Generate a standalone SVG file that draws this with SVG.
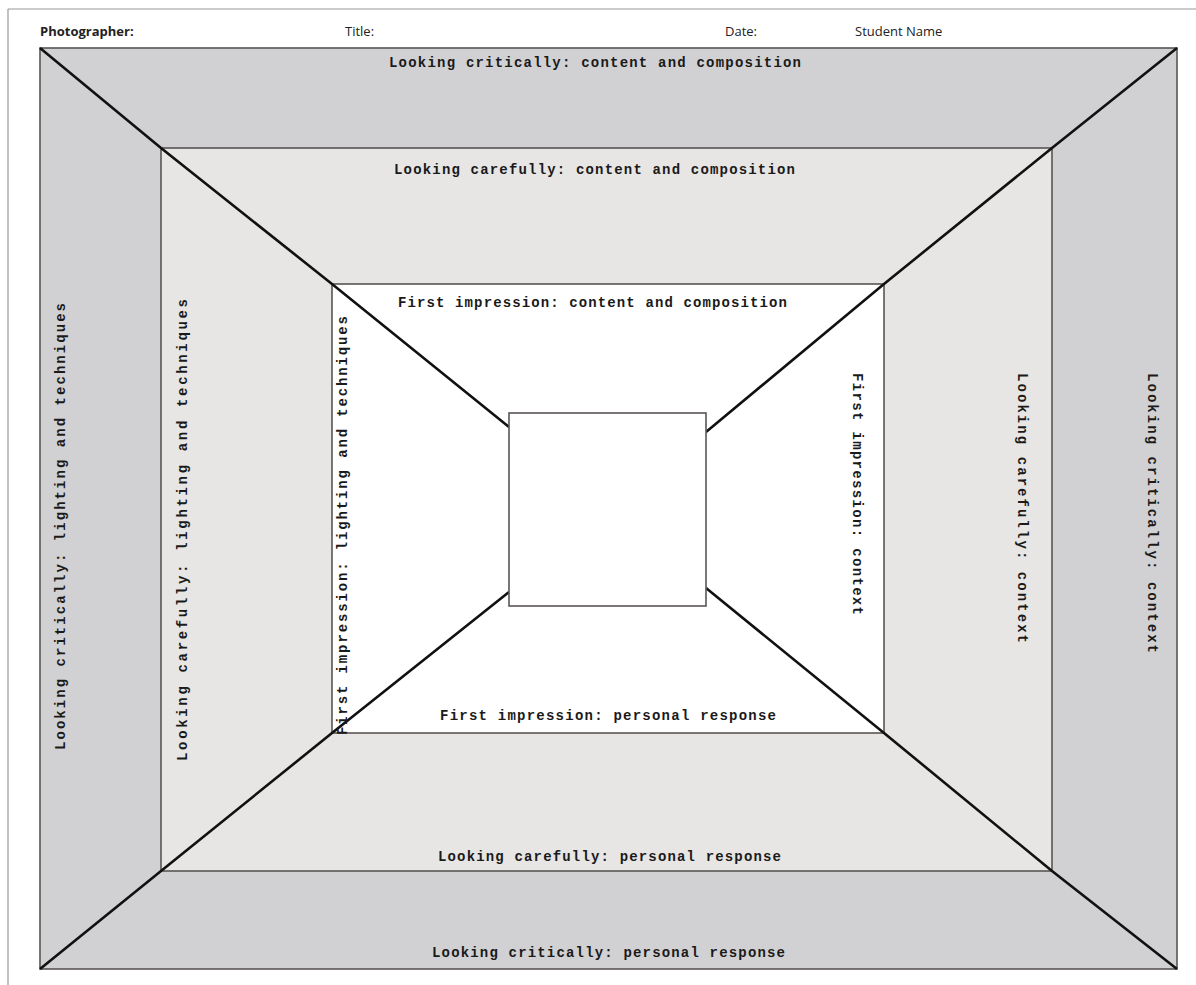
<svg xmlns="http://www.w3.org/2000/svg" width="1196" height="985" viewBox="0 0 1196 985">
<style>
.hdr{font-family:"Open Sans","DejaVu Sans",sans-serif;font-size:13px;fill:#222}
.lbl{font-family:"Liberation Mono","Courier New",monospace;font-size:14px;font-weight:bold;fill:#1a1a1a;text-anchor:middle}
.frame{stroke:#5a5555;stroke-width:1.6}
.diag{fill:none;stroke:#111;stroke-width:2.6;stroke-linejoin:round}
</style>
<rect width="1196" height="985" fill="#ffffff"/>
<g id="page-border" fill="none" stroke="#9a9898" stroke-width="1.2">
<line x1="8" y1="9" x2="1196" y2="9"/>
<line x1="8" y1="9" x2="8" y2="985"/>
</g>
<g id="header">
<text class="hdr" x="40" y="36" font-weight="bold">Photographer:</text>
<text class="hdr" x="345" y="36">Title:</text>
<text class="hdr" x="725" y="36">Date:</text>
<text class="hdr" x="855" y="36">Student Name</text>
</g>
<g id="outer-critically">
<rect class="frame" x="40" y="48" width="1137" height="921" fill="#d1d1d3"/>
</g>
<g id="middle-carefully">
<rect class="frame" x="161" y="148" width="891" height="723" fill="#e7e6e5"/>
</g>
<g id="inner-first-impression">
<rect class="frame" x="332" y="284" width="552" height="449" fill="#ffffff"/>
</g>
<g id="connectors">
<polyline class="diag" points="40,48 161,148 332,284 509,427"/>
<polyline class="diag" points="1177,48 1052,148 884,284 706,432"/>
<polyline class="diag" points="40,969 161,871 332,733 509,592"/>
<polyline class="diag" points="1177,969 1052,871 884,733 706,588"/>
</g>
<g id="center-photo">
<rect class="frame" x="509" y="413" width="197" height="193" fill="#ffffff"/>
</g>
<g id="labels-critically">
<text class="lbl" x="595" y="67" textLength="412" lengthAdjust="spacing">Looking critically: content and composition</text>
<text class="lbl" x="608.5" y="957" textLength="353" lengthAdjust="spacing">Looking critically: personal response</text>
<text class="lbl" transform="translate(65,526.5) rotate(-90)" x="0" y="0" textLength="447" lengthAdjust="spacing">Looking critically: lighting and techniques</text>
<text class="lbl" transform="translate(1148,513) rotate(90)" x="0" y="0" textLength="280" lengthAdjust="spacing">Looking critically: context</text>
</g>
<g id="labels-carefully">
<text class="lbl" x="594.5" y="174" textLength="401" lengthAdjust="spacing">Looking carefully: content and composition</text>
<text class="lbl" x="609.5" y="861" textLength="343" lengthAdjust="spacing">Looking carefully: personal response</text>
<text class="lbl" transform="translate(187,530) rotate(-90)" x="0" y="0" textLength="462" lengthAdjust="spacing">Looking carefully: lighting and techniques</text>
<text class="lbl" transform="translate(1018,508) rotate(90)" x="0" y="0" textLength="270" lengthAdjust="spacing">Looking carefully: context</text>
</g>
<g id="labels-first-impression">
<text class="lbl" x="592.5" y="307" textLength="389" lengthAdjust="spacing">First impression: content and composition</text>
<text class="lbl" x="608" y="720" textLength="336" lengthAdjust="spacing">First impression: personal response</text>
<text class="lbl" transform="translate(347,525.5) rotate(-90)" x="0" y="0" textLength="419" lengthAdjust="spacing">First impression: lighting and techniques</text>
<text class="lbl" transform="translate(853,494) rotate(90)" x="0" y="0" textLength="242" lengthAdjust="spacing">First impression: context</text>
</g>
</svg>
